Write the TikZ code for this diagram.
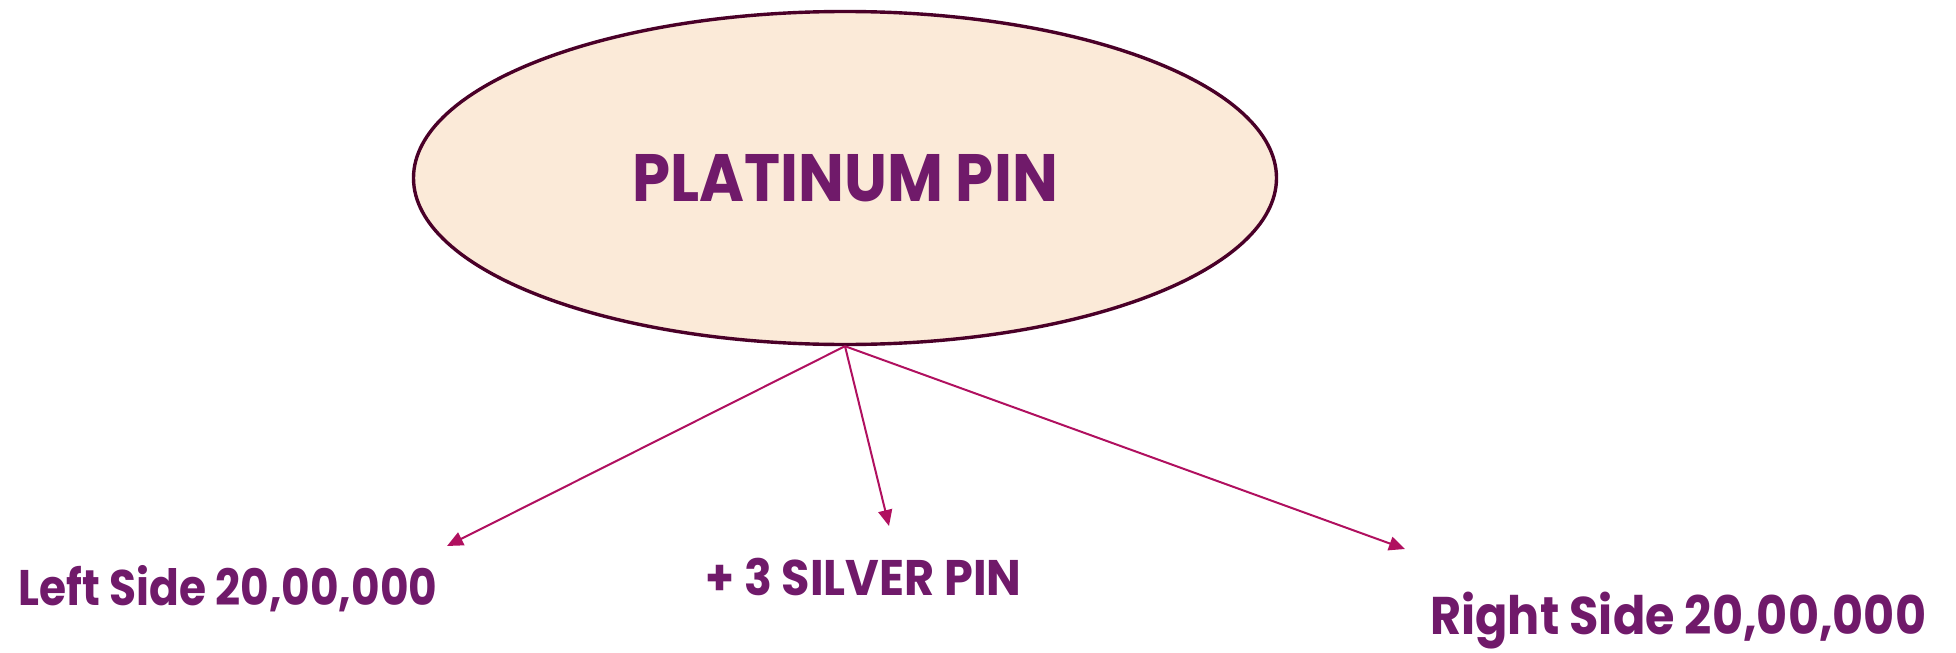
\documentclass[tikz,border=0pt]{standalone}
\usepackage{fontspec}
\usepackage{graphicx}
\setmainfont{Poppins}
\usetikzlibrary{shapes.geometric,arrows.meta}
\definecolor{txtpurple}{HTML}{701A6A}
\definecolor{arrowmag}{HTML}{B0105F}
\definecolor{rimdark}{HTML}{4A0028}
\definecolor{peach}{HTML}{FBEAD8}
\newcommand{\squeezetext}[2]{\scalebox{#1}[1]{#2}}
\tikzset{
  mainoval/.style={ellipse, draw=rimdark, fill=peach, line width=1.7pt,
    minimum width=431.5pt, minimum height=166.5pt, inner sep=0pt,
    text=txtpurple, font=\bfseries\fontsize{33.5pt}{36pt}\selectfont},
  branch/.style={draw=arrowmag, line width=1pt,
    -{Triangle[length=8pt,width=7pt]}},
  leaflabel/.style={text=txtpurple, inner sep=0pt, anchor=base west,
    font=\bfseries\fontsize{25pt}{28pt}\selectfont},
}
\begin{document}
\begin{tikzpicture}[x=0.5pt,y=-0.5pt]
\useasboundingbox (0,0) rectangle (1956,653);
\node[mainoval] (pp) at (845,178) {\squeezetext{0.91}{PLATINUM PIN}};
\coordinate (tl) at (447,546);
\coordinate (tm) at (889,526);
\coordinate (tr) at (1405,549);
\draw[branch] (pp.south) -- (tl);
\draw[branch] (pp.south) -- (tm);
\draw[branch] (pp.south) -- (tr);
\node[leaflabel] (ls) at (18,605) {\squeezetext{0.878}{Left Side 20,00,000}};
\node[leaflabel] (sp) at (705,595) {\squeezetext{0.923}{+ 3 SILVER PIN}};
\node[leaflabel, font=\bfseries\fontsize{26.5pt}{30pt}\selectfont] (rs) at (1430,634) {\squeezetext{0.9}{Right Side 20,00,000}};
\end{tikzpicture}
\end{document}
